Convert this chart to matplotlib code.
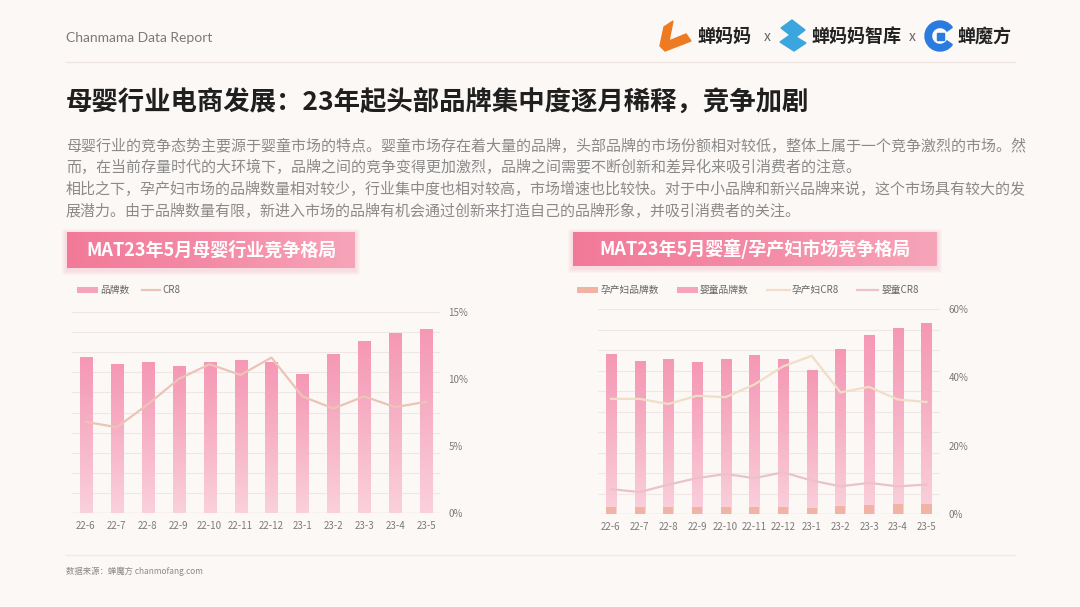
import matplotlib.pyplot as plt
import numpy as np
from matplotlib.colors import LinearSegmentedColormap
from matplotlib.patches import Rectangle, Polygon, Wedge

plt.rcParams['font.family'] = ['Noto Sans CJK SC', 'DejaVu Sans']

months = ['22-6', '22-7', '22-8', '22-9', '22-10', '22-11', '22-12',
          '23-1', '23-2', '23-3', '23-4', '23-5']

# left chart: brand count (hidden axis, 0-15) and CR8 (%)
brand_total = [11.6, 11.1, 11.2, 10.9, 11.2, 11.4, 11.2, 10.3, 11.8, 12.8, 13.4, 13.7]
cr8_total = [6.8, 6.4, 8.1, 10.0, 11.1, 10.3, 11.6, 8.7, 7.8, 8.7, 7.9, 8.3]

# right chart: brand counts (hidden axis, 0-15) and CR8 (%)
brand_baby = [11.66, 11.19, 11.27, 11.07, 11.31, 11.57, 11.31, 10.49, 12.03, 13.05, 13.56, 13.92]
brand_maternal = [0.51, 0.51, 0.51, 0.51, 0.51, 0.51, 0.51, 0.44, 0.62, 0.69, 0.74, 0.74]
cr8_maternal = [33.7, 33.7, 32.2, 34.6, 34.2, 37.9, 43.2, 46.3, 35.6, 37.2, 33.5, 32.8]
cr8_baby = [7.3, 6.4, 8.6, 10.5, 11.7, 10.5, 12.2, 9.8, 8.1, 9.1, 8.1, 8.6]

intro = [
    "母婴行业的竞争态势主要源于婴童市场的特点。婴童市场存在着大量的品牌，头部品牌的市场份额相对较低，整体上属于一个竞争激烈的市场。然",
    "而，在当前存量时代的大环境下，品牌之间的竞争变得更加激烈，品牌之间需要不断创新和差异化来吸引消费者的注意。",
    "相比之下，孕产妇市场的品牌数量相对较少，行业集中度也相对较高，市场增速也比较快。对于中小品牌和新兴品牌来说，这个市场具有较大的发",
    "展潜力。由于品牌数量有限，新进入市场的品牌有机会通过创新来打造自己的品牌形象，并吸引消费者的关注。",
]

BG = '#FCF8F6'
W, H = 1080, 607
fig = plt.figure(figsize=(10.8, 6.07), dpi=100, facecolor=BG)

# overlay in pixel coordinates for decorations
ov = fig.add_axes([0, 0, 1, 1], zorder=-1)
ov.set_xlim(0, W)
ov.set_ylim(H, 0)
ov.axis('off')
ov.set_facecolor(BG)

ov.text(66, 38, 'Chanmama Data Report', fontsize=10, color='#7a7a7a',
        family=['Lato', 'DejaVu Sans'], va='center')
ov.plot([66, 1015], [62, 62], color='#EFE6E3', lw=1)

# logos
ov.add_patch(Polygon([(664, 27), (673, 21), (669, 41), (686, 34), (691, 41), (665, 51), (660, 46)],
                     closed=True, color='#EE7A22'))
ov.text(697, 36, '蝉妈妈', fontsize=13, fontweight='bold', color='#222222', va='center')
ov.text(767, 37, 'x', fontsize=10, color='#666666', va='center', ha='center')
ov.add_patch(Polygon([(792, 20), (805, 30), (796, 37), (806, 43), (794, 51), (780, 42), (790, 35), (781, 28)],
                     closed=True, color='#3AA6DD'))
ov.text(811, 36, '蝉妈妈智库', fontsize=13, fontweight='bold', color='#222222', va='center')
ov.text(912, 37, 'x', fontsize=10, color='#666666', va='center', ha='center')
ov.add_patch(Wedge((940, 36), 15, 35, 325, width=6.5, color='#2A7BE0'))
ov.add_patch(Rectangle((937, 33), 7, 7, color='#2A7BE0'))
ov.text(958, 36, '蝉魔方', fontsize=13, fontweight='bold', color='#222222', va='center')

# title and intro
ov.text(66, 103, '母婴行业电商发展：23年起头部品牌集中度逐月稀释，竞争加剧',
        fontsize=19, fontweight='heavy', color='#1f1f1f', va='center')
for i, line in enumerate(intro):
    ov.text(66, 146 + i * 21.7, line, fontsize=10.8, color='#8a8a8a', va='center')

# footer
ov.plot([66, 1015], [555, 555], color='#F1EAE7', lw=1)
ov.text(66, 571, '数据来源：蝉魔方 chanmofang.com', fontsize=6, color='#8a8a8a', va='center')

banner_cmap = LinearSegmentedColormap.from_list('banner', ['#F27A99', '#F48BA6', '#F7A4B9'])


def banner(x0, x1, y0, y1, label):
    for k in range(1, 6):
        ov.add_patch(Rectangle((x0 - k, y0 - k + 2), x1 - x0 + 2 * k, y1 - y0 + 2 * k,
                               color='#F6B5C5', alpha=0.09, lw=0))
    bax = fig.add_axes([x0 / W, 1 - y1 / H, (x1 - x0) / W, (y1 - y0) / H])
    bax.imshow(np.linspace(0, 1, 128).reshape(1, -1), cmap=banner_cmap, aspect='auto',
               extent=[0, 1, 0, 1])
    bax.axis('off')
    bax.text(0.5, 0.5, label, color='white', fontsize=13, fontweight='bold',
             ha='center', va='center', transform=bax.transAxes)


banner(67, 355, 232, 268, 'MAT23年5月母婴行业竞争格局')
banner(573, 937, 232, 266, 'MAT23年5月婴童/孕产妇市场竞争格局')

bar_cmap = LinearSegmentedColormap.from_list('bar', ['#FAD0DC', '#F7B3C8', '#F598B6'])


def grad_bars(ax, x, h, w, cmap):
    grad = np.linspace(0, 1, 64).reshape(-1, 1)
    for xi, hi in zip(x, h):
        ax.imshow(grad, extent=[xi - w / 2, xi + w / 2, 0, hi], origin='lower',
                  cmap=cmap, aspect='auto', zorder=2, vmin=0, vmax=1)


def make_axes(x0, x1, y0, y1, pct_max):
    ax = fig.add_axes([x0 / W, 1 - y1 / H, (x1 - x0) / W, (y1 - y0) / H])
    ax.set_facecolor('none')
    ax2 = ax.twinx()
    for a in (ax, ax2):
        for s in a.spines.values():
            s.set_visible(False)
    # gridlines of the hidden count axis, ten bands
    for g in np.linspace(0, 15, 11)[1:]:
        ax.axhline(g, color='#EEE7E4', lw=0.8, zorder=0.5)
    ax.axhline(0, color='#E6DEDB', lw=1, zorder=1)
    ax.set_yticks([])
    ax.tick_params(axis='x', length=0, labelsize=7, labelcolor='#7a7a7a', pad=6)
    ax2.set_ylim(0, pct_max)
    ticks = np.linspace(0, pct_max, 4)
    ax2.set_yticks(ticks)
    ax2.set_yticklabels([f'{int(t)}%' for t in ticks])
    ax2.tick_params(axis='y', length=0, labelsize=7, labelcolor='#7a7a7a', pad=6)
    return ax, ax2


x = np.arange(len(months))

# left chart
axl, axl2 = make_axes(72, 440, 312, 513, 15)
grad_bars(axl, x, brand_total, 0.39, bar_cmap)
axl.set_xticks(x)
axl.set_xticklabels(months)
axl.set_xlim(-0.45, 11.45)
axl.set_ylim(0, 15)
axl2.plot(x, cr8_total, color='#EBC4B7', lw=1.6)

ov.add_patch(Rectangle((77, 287), 21, 6, color='#F6A3BE', lw=0))
ov.text(100, 290, '品牌数', fontsize=7, color='#666666', va='center')
ov.plot([142, 160], [290, 290], color='#EBC4B7', lw=1.6)
ov.text(162, 290, 'CR8', fontsize=7, color='#666666', va='center')

# right chart
axr, axr2 = make_axes(598, 940, 309, 514, 60)
grad_bars(axr, x, brand_baby, 0.35, bar_cmap)
axr.bar(x, brand_maternal, width=0.35, color='#F1B4A4', zorder=3)
axr.set_xticks(x)
axr.set_xticklabels(months)
axr.set_xlim(-0.45, 11.47)
axr.set_ylim(0, 15)
axr2.plot(x, cr8_maternal, color='#F0DEC6', lw=1.6)
axr2.plot(x, cr8_baby, color='#EBC1CB', lw=1.6)

ov.add_patch(Rectangle((577, 287), 21, 6, color='#F1B4A4', lw=0))
ov.text(601, 290, '孕产妇品牌数', fontsize=7, color='#666666', va='center')
ov.add_patch(Rectangle((677, 287), 21, 6, color='#F6A3BE', lw=0))
ov.text(700, 290, '婴童品牌数', fontsize=7, color='#666666', va='center')
ov.plot([767, 790], [290, 290], color='#F0DEC6', lw=1.6)
ov.text(792, 290, '孕产妇CR8', fontsize=7, color='#666666', va='center')
ov.plot([857, 878], [290, 290], color='#EBC1CB', lw=1.6)
ov.text(881, 290, '婴童CR8', fontsize=7, color='#666666', va='center')

fig.savefig('out.png', dpi=100, facecolor=BG)
